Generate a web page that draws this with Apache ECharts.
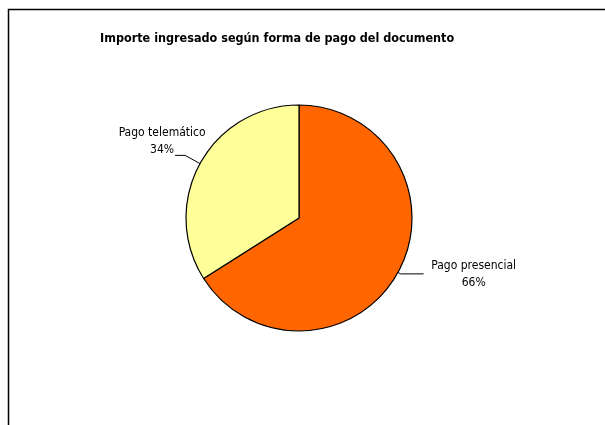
<!DOCTYPE html>
<html>
<head>
<meta charset="utf-8">
<script src="https://cdn.jsdelivr.net/npm/echarts@6/dist/echarts.min.js"></script>
<style>
  html, body { margin: 0; padding: 0; background: #fff; }
  #container { width: 605px; height: 425px; }
</style>
</head>
<body>
<div id="container"></div>
<script>
var titleText = 'Importe ingresado según forma de pago del documento';
var categories = ['Pago presencial', 'Pago telemático'];
var values = [66, 34];
var colors = ['#FF6600', '#FFFF99'];

var font = '"DejaVu Sans Condensed", "Liberation Sans Narrow", sans-serif';
var myChart = echarts.init(document.getElementById('container'));

var data = categories.map(function (name, i) {
    return {
        name: name,
        value: values[i],
        itemStyle: { color: colors[i] },
        labelLine: i === 0 ? { length: 3, length2: 23 } : { length: 17, length2: 10 }
    };
});

option = {
    animation: false,
    title: {
        text: titleText,
        left: 100,
        top: 32,
        padding: 0,
        textStyle: {
            fontFamily: font,
            fontWeight: 'bold',
            fontSize: 12.5,
            color: '#000'
        }
    },
    graphic: [{
        type: 'polyline',
        shape: { points: [[8.5, 425], [8.5, 9.5], [605, 9.5]] },
        style: { stroke: '#000', lineWidth: 1.5, fill: null }
    }],
    series: [{
        type: 'pie',
        center: [299, 218],
        radius: 113,
        startAngle: 90,
        clockwise: true,
        data: data,
        itemStyle: {
            borderColor: '#000',
            borderWidth: 1.2
        },
        label: {
            show: true,
            formatter: '{b}\n{d}%',
            fontFamily: font,
            fontSize: 12,
            lineHeight: 17,
            color: '#000',
            align: 'center'
        },
        labelLine: {
            show: true,
            lineStyle: { color: '#000', width: 1 }
        },
        labelLayout: function (p) {
            var pts = p.labelLinePoints;
            if (!pts) return {};
            var end = pts[pts.length - 1];
            var left = end[0] < 299;
            return {
                x: left ? end[0] - 13 : end[0] + 50,
                y: left ? end[1] - 14 : end[1],
                align: 'center',
                verticalAlign: 'middle',
                labelLinePoints: pts
            };
        }
    }]
};

myChart.setOption(option);
</script>
</body>
</html>
